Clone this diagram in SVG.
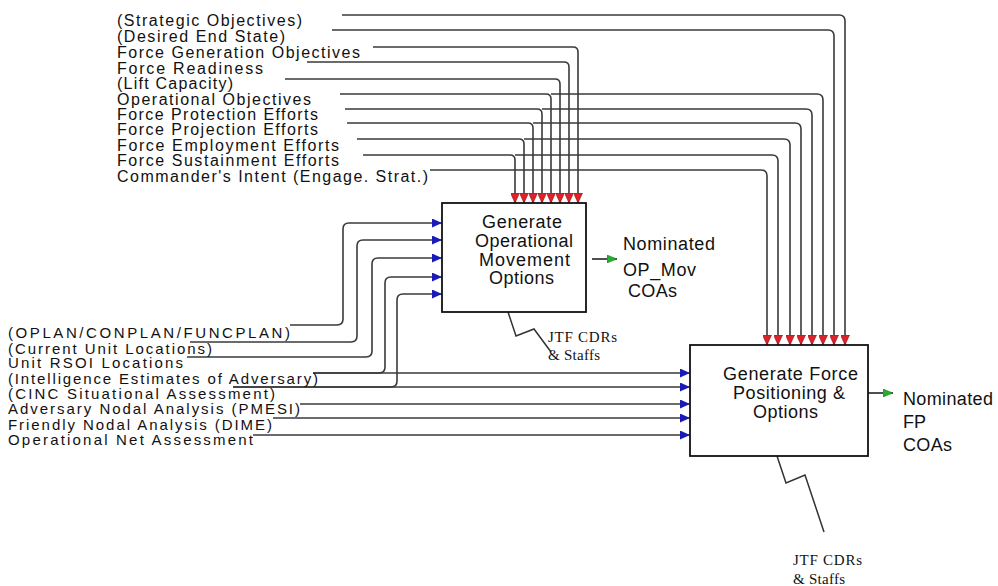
<svg xmlns="http://www.w3.org/2000/svg" width="998" height="586" viewBox="0 0 998 586">
<style>
.lbl{font-family:"Liberation Sans",Arial,sans-serif;font-size:16px;fill:#111}
.lbs{font-family:"Liberation Sans",Arial,sans-serif;font-size:15px;fill:#111}
.box{fill:#fff;stroke:#111;stroke-width:1.8}
.btx{font-family:"Liberation Sans",Arial,sans-serif;font-size:18px;fill:#111}
.mech{font-family:"Liberation Serif","Times New Roman",serif;font-size:15px;fill:#111}
.ct{fill:none;stroke:#3a3a3a;stroke-width:1.6;marker-end:url(#aR)}
.cl{fill:none;stroke:#3a3a3a;stroke-width:1.6;marker-end:url(#aB)}
.co{fill:none;stroke:#222;stroke-width:1.6;marker-end:url(#aG)}
.m{fill:none;stroke:#333;stroke-width:1.5}
</style>
<defs>
<marker id="aR" viewBox="0 0 10 9" refX="10" refY="4.5" markerWidth="10" markerHeight="9" markerUnits="userSpaceOnUse" orient="auto">
<path d="M0,0 L10,4.5 L0,9 z" fill="#e0202a" stroke="#8a1010" stroke-width="0.6"/>
</marker>
<marker id="aB" viewBox="0 0 10 9" refX="10" refY="4.5" markerWidth="10" markerHeight="9" markerUnits="userSpaceOnUse" orient="auto">
<path d="M0,0 L10,4.5 L0,9 z" fill="#1a1ab8"/>
</marker>
<marker id="aG" viewBox="0 0 10 8" refX="10" refY="4" markerWidth="10" markerHeight="8" markerUnits="userSpaceOnUse" orient="auto">
<path d="M0,0 L10,4 L0,8 z" fill="#22b030" stroke="#127018" stroke-width="0.5"/>
</marker>
</defs>
<rect width="998" height="586" fill="#fff"/>

<g id="connectors">
<path class="ct" d="M373,47 H573 Q578,47 578,52 V203"/>
<path class="ct" d="M307,62 H564 Q569,62 569,67 V203"/>
<path class="ct" d="M285,79 H555 Q560,79 560,84 V203"/>
<path class="ct" d="M340,94 H546 Q551,94 551,99 V203"/>
<path class="ct" d="M345,109 H537 Q542,109 542,114 V203"/>
<path class="ct" d="M347,123 H528 Q533,123 533,128 V203"/>
<path class="ct" d="M357,139 H519 Q524,139 524,144 V203"/>
<path class="ct" d="M363,155 H510 Q515,155 515,160 V203"/>
<path class="ct" d="M342,15 H839 Q845,15 845,21 V345"/>
<path class="ct" d="M332,30 H828 Q834,30 834,36 V345"/>
<path class="ct" d="M551,94 H817 Q823,94 823,100 V345"/>
<path class="ct" d="M542,109 H806 Q812,109 812,115 V345"/>
<path class="ct" d="M533,123 H795 Q801,123 801,129 V345"/>
<path class="ct" d="M524,139 H784 Q790,139 790,145 V345"/>
<path class="ct" d="M515,155 H772 Q778,155 778,161 V345"/>
<path class="ct" d="M430,170 H761 Q767,170 767,176 V345"/>
<path class="cl" d="M290,325 H337 Q343,325 343,319 V229 Q343,223 349,223 H442"/>
<path class="cl" d="M190,342 H351 Q357,342 357,336 V246 Q357,240 363,240 H442"/>
<path class="cl" d="M187,357 H366 Q372,357 372,351 V264 Q372,258 378,258 H442"/>
<path class="cl" d="M313,373 H379 Q385,373 385,367 V283 Q385,277 391,277 H442"/>
<path class="cl" d="M233,387 H391 Q397,387 397,381 V300 Q397,294 403,294 H442"/>
<path class="cl" d="M313,373 H690"/>
<path class="cl" d="M233,387 H690"/>
<path class="cl" d="M300,404 H690"/>
<path class="cl" d="M273,418 H690"/>
<path class="cl" d="M253,435 H690"/>
<path class="co" d="M592,259 H617"/>
<path class="co" d="M868,393 H893"/>
<path class="m" d="M508,312 L516,336 L534,329 L551,352"/>
<path class="m" d="M777,456 L786,483 L805,475 L824,532"/>
</g>

<g id="box1">
<rect class="box" x="442" y="203" width="144" height="109"/>
<text class="btx" x="482" y="228" textLength="80" lengthAdjust="spacing">Generate</text>
<text class="btx" x="475" y="247" textLength="98" lengthAdjust="spacing">Operational</text>
<text class="btx" x="479" y="266" textLength="91" lengthAdjust="spacing">Movement</text>
<text class="btx" x="489" y="284" textLength="65" lengthAdjust="spacing">Options</text>
</g>

<g id="box2">
<rect class="box" x="690" y="345" width="178" height="111"/>
<text class="btx" x="723" y="380" textLength="135" lengthAdjust="spacing">Generate Force</text>
<text class="btx" x="733" y="399" textLength="112" lengthAdjust="spacing">Positioning &amp;</text>
<text class="btx" x="753" y="418" textLength="65" lengthAdjust="spacing">Options</text>
</g>

<g id="controls">
<text class="lbl" x="117" y="26" textLength="185" lengthAdjust="spacing">(Strategic Objectives)</text>
<text class="lbl" x="117" y="42" textLength="168" lengthAdjust="spacing">(Desired End State)</text>
<text class="lbl" x="117" y="58" textLength="243" lengthAdjust="spacing">Force Generation Objectives</text>
<text class="lbl" x="117" y="74" textLength="146" lengthAdjust="spacing">Force Readiness</text>
<text class="lbl" x="117" y="89" textLength="116" lengthAdjust="spacing">(Lift Capacity)</text>
<text class="lbl" x="117" y="105" textLength="194" lengthAdjust="spacing">Operational Objectives</text>
<text class="lbl" x="117" y="120" textLength="201" lengthAdjust="spacing">Force Protection Efforts</text>
<text class="lbl" x="117" y="135" textLength="201" lengthAdjust="spacing">Force Projection Efforts</text>
<text class="lbl" x="117" y="151" textLength="222" lengthAdjust="spacing">Force Employment Efforts</text>
<text class="lbl" x="117" y="166" textLength="222" lengthAdjust="spacing">Force Sustainment Efforts</text>
<text class="lbl" x="117" y="182" textLength="311" lengthAdjust="spacing">Commander's Intent (Engage. Strat.)</text>
</g>

<g id="inputs">
<text class="lbs" x="8" y="338" textLength="282" lengthAdjust="spacing">(OPLAN/CONPLAN/FUNCPLAN)</text>
<text class="lbs" x="8" y="354" textLength="204" lengthAdjust="spacing">(Current Unit Locations)</text>
<text class="lbs" x="8" y="368" textLength="175" lengthAdjust="spacing">Unit RSOI Locations</text>
<text class="lbs" x="8" y="384" textLength="310" lengthAdjust="spacing">(Intelligence Estimates of Adversary)</text>
<text class="lbs" x="8" y="399" textLength="267" lengthAdjust="spacing">(CINC Situational Assessment)</text>
<text class="lbs" x="8" y="414" textLength="292" lengthAdjust="spacing">Adversary Nodal Analysis (PMESI)</text>
<text class="lbs" x="8" y="430" textLength="264" lengthAdjust="spacing">Friendly Nodal Analysis (DIME)</text>
<text class="lbs" x="8" y="445" textLength="245" lengthAdjust="spacing">Operational Net Assessment</text>
</g>

<g id="outputs">
<text class="btx" x="623" y="250" textLength="92" lengthAdjust="spacing">Nominated</text>
<text class="btx" x="623" y="276" textLength="73" lengthAdjust="spacing">OP_Mov</text>
<text class="btx" x="628" y="297" textLength="49" lengthAdjust="spacing">COAs</text>
<text class="btx" x="903" y="405" textLength="90" lengthAdjust="spacing">Nominated</text>
<text class="btx" x="903" y="428">FP</text>
<text class="btx" x="903" y="451" textLength="49" lengthAdjust="spacing">COAs</text>
</g>

<g id="mechanisms">
<text class="mech" x="548" y="342" textLength="69" lengthAdjust="spacing">JTF CDRs</text>
<text class="mech" x="548" y="360" textLength="52" lengthAdjust="spacing">&amp; Staffs</text>
<text class="mech" x="793" y="565" textLength="69" lengthAdjust="spacing">JTF CDRs</text>
<text class="mech" x="793" y="584" textLength="52" lengthAdjust="spacing">&amp; Staffs</text>
</g>
</svg>
